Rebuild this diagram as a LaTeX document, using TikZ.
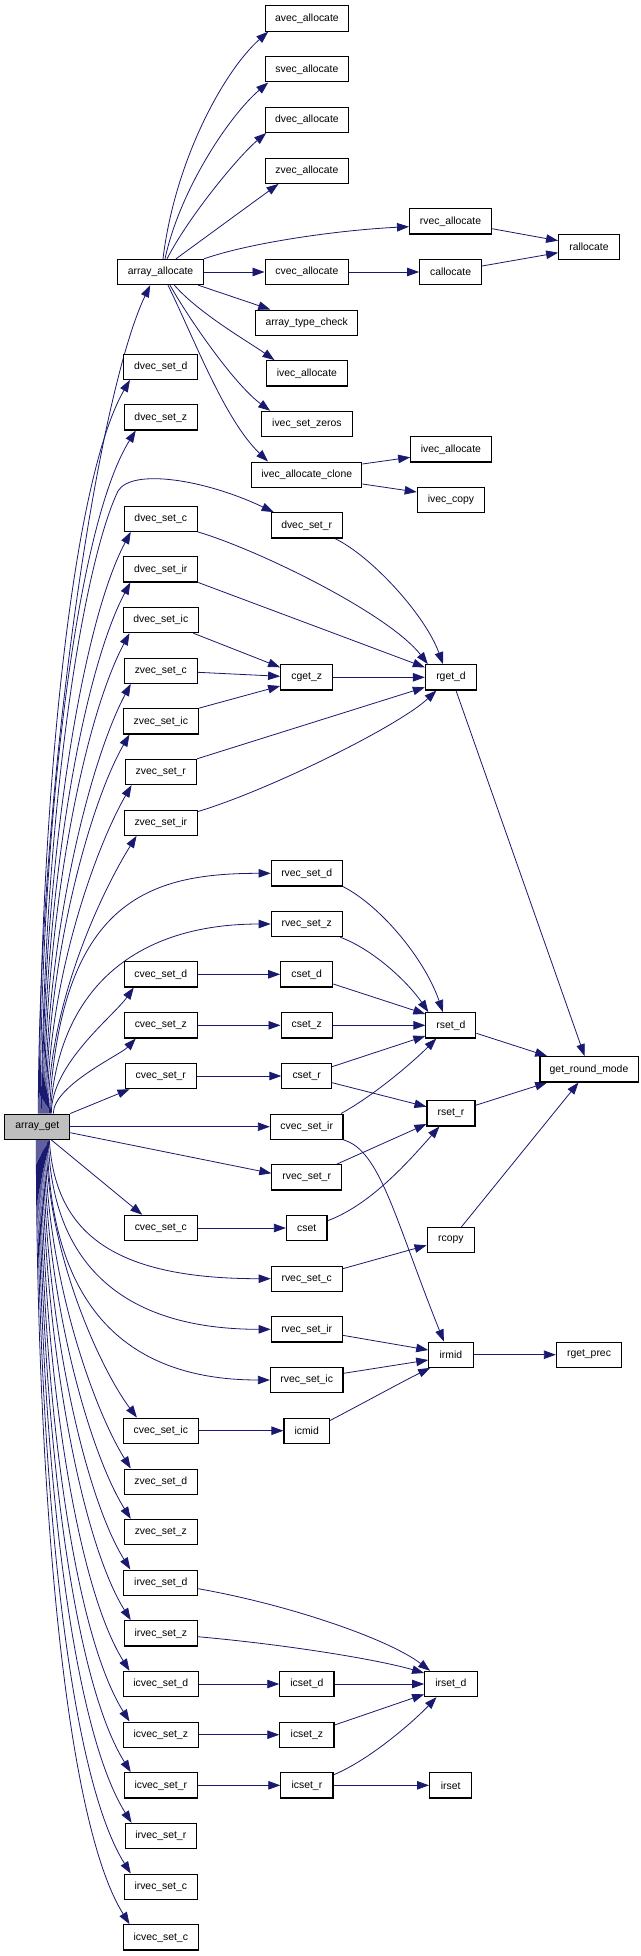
\documentclass[tikz,border=0pt]{standalone}
\usepackage{fontspec}
\setmainfont{Liberation Sans}
\usetikzlibrary{arrows.meta,calc}
\definecolor{navy}{HTML}{191970}
\definecolor{agfill}{HTML}{BFBFBF}
\pgfdeclarelayer{bglayer}
\pgfdeclarelayer{edgelayer}
\pgfsetlayers{bglayer,edgelayer,main}
\begin{document}
\begin{tikzpicture}[x=1pt,y=-1pt,
  box/.style={draw=black, line width=1.1pt, fill=white, minimum height=25.3pt, inner sep=0pt, font=\fontsize{10.4}{12}\selectfont},
  e/.style={draw=navy, line width=0.8pt, -{Triangle[length=12pt,width=8.5pt,fill=navy]}}]
\useasboundingbox (0,0) rectangle (640,1956);
\begin{pgfonlayer}{bglayer}
\fill[white] (0,0) rectangle (640,1956);
\end{pgfonlayer}
% nodes
\node[box, minimum width=83.7pt] (avec) at (306.9,18.5) {avec\_allocate};
\node[box, minimum width=83.7pt] (svec) at (306.9,69.3) {svec\_allocate};
\node[box, minimum width=83.7pt] (dvecal) at (306.9,119.8) {dvec\_allocate};
\node[box, minimum width=83.7pt] (zvecal) at (306.9,170.7) {zvec\_allocate};
\node[box, minimum width=82pt] (rvecal) at (450.5,221.3) {rvec\_allocate};
\node[box, minimum width=60.7pt] (rall) at (589,246.7) {rallocate};
\node[box, minimum width=85.8pt] (aa) at (160.6,272) {array\_allocate};
\node[box, minimum width=83.7pt] (cvecal) at (306.9,272) {cvec\_allocate};
\node[box, minimum width=61.9pt] (call) at (450.6,272) {callocate};
\node[box, minimum width=102.1pt] (atc) at (306.7,322.7) {array\_type\_check};
\node[box, minimum width=80.4pt] (ivecala) at (306.9,373.3) {ivec\_allocate};
\node[box, minimum width=73.8pt] (dsd) at (160.8,366.7) {dvec\_set\_d};
\node[box, minimum width=73pt] (dsz) at (160.8,417.3) {dvec\_set\_z};
\node[box, minimum width=90.3pt] (ivz) at (306.9,424) {ivec\_set\_zeros};
\node[box, minimum width=80.4pt] (ivecalb) at (450.9,449.3) {ivec\_allocate};
\node[box, minimum width=110.3pt] (ivac) at (306.7,474.7) {ivec\_allocate\_clone};
\node[box, minimum width=67.3pt] (ivcopy) at (450.9,500) {ivec\_copy};
\node[box, minimum width=73pt] (dsc) at (160.8,518.7) {dvec\_set\_c};
\node[box, minimum width=71pt] (dsr) at (306.7,525.3) {dvec\_set\_r};
\node[box, minimum width=73.8pt] (dsir) at (160.8,569.3) {dvec\_set\_ir};
\node[box, minimum width=75.5pt] (dsic) at (160.8,620) {dvec\_set\_ic};
\node[box, minimum width=73pt] (zsc) at (160.8,670.7) {zvec\_set\_c};
\node[box, minimum width=52.1pt] (cgetz) at (306.7,677.3) {cget\_z};
\node[box, minimum width=51.3pt] (rgetd) at (451,677.3) {rget\_d};
\node[box, minimum width=75.5pt] (zsic) at (160.8,721.3) {zvec\_set\_ic};
\node[box, minimum width=71.4pt] (zsr) at (160.8,772) {zvec\_set\_r};
\node[box, minimum width=73.4pt] (zsir) at (160.8,822.7) {zvec\_set\_ir};
\node[box, minimum width=71pt] (rsd) at (306.7,873.3) {rvec\_set\_d};
\node[box, minimum width=71pt] (rsz) at (306.7,924) {rvec\_set\_z};
\node[box, minimum width=73pt] (csd) at (160.8,974.3) {cvec\_set\_d};
\node[box, minimum width=52.1pt] (csetd) at (306.7,974.3) {cset\_d};
\node[box, minimum width=73pt] (csz) at (160.8,1025.3) {cvec\_set\_z};
\node[box, minimum width=51.3pt] (csetz) at (306.7,1025.3) {cset\_z};
\node[box, minimum width=50pt] (rsetd) at (450.9,1025.3) {rset\_d};
\node[box, minimum width=98.1pt] (grm) at (589,1069.3) {get\_round\_mode};
\node[box, minimum width=71.4pt] (csr) at (160.8,1076) {cvec\_set\_r};
\node[box, minimum width=49.6pt] (csetr) at (306.7,1076) {cset\_r};
\node[box, minimum width=48pt] (rsetr) at (451,1113.3) {rset\_r};
\node[box, minimum width=64.8pt, fill=agfill] (ag) at (37.3,1126.7) {array\_get};
\node[box, minimum width=72.6pt] (csir) at (306.7,1126.7) {cvec\_set\_ir};
\node[box, minimum width=69.7pt] (rsr) at (306.7,1177.3) {rvec\_set\_r};
\node[box, minimum width=73pt] (csc) at (160.8,1228) {cvec\_set\_c};
\node[box, minimum width=40.6pt] (cset) at (306.7,1228) {cset};
\node[box, minimum width=47.6pt] (rcopy) at (450.9,1240) {rcopy};
\node[box, minimum width=71pt] (rsc) at (306.7,1278.7) {rvec\_set\_c};
\node[box, minimum width=71pt] (rsir) at (306.7,1329.3) {rvec\_set\_ir};
\node[box, minimum width=44.3pt] (irmid) at (450.9,1354.7) {irmid};
\node[box, minimum width=65.2pt] (rgp) at (589,1354.7) {rget\_prec};
\node[box, minimum width=72.6pt] (rsic) at (306.7,1380) {rvec\_set\_ic};
\node[box, minimum width=75.5pt] (csic) at (160.8,1430.7) {cvec\_set\_ic};
\node[box, minimum width=45.5pt] (icmid) at (306.7,1430.7) {icmid};
\node[box, minimum width=73pt] (zsd) at (160.8,1481.7) {zvec\_set\_d};
\node[box, minimum width=73pt] (zsz) at (160.8,1532) {zvec\_set\_z};
\node[box, minimum width=73.8pt] (irsd) at (160.8,1582.7) {irvec\_set\_d};
\node[box, minimum width=73pt] (irsz) at (160.8,1633.3) {irvec\_set\_z};
\node[box, minimum width=75.5pt] (icsd) at (160.8,1684) {icvec\_set\_d};
\node[box, minimum width=54.2pt] (icsetd) at (306.9,1684) {icset\_d};
\node[box, minimum width=52.5pt] (irsetd) at (450.9,1684) {irset\_d};
\node[box, minimum width=75.5pt] (icsz) at (160.8,1734.7) {icvec\_set\_z};
\node[box, minimum width=54.2pt] (icsetz) at (306.9,1734.7) {icset\_z};
\node[box, minimum width=73pt] (icsr) at (160.8,1785.3) {icvec\_set\_r};
\node[box, minimum width=52.1pt] (icsetr) at (306.9,1785.3) {icset\_r};
\node[box, minimum width=42.3pt] (irset) at (450.7,1785.3) {irset};
\node[box, minimum width=71.4pt] (irsr) at (160.8,1836) {irvec\_set\_r};
\node[box, minimum width=73pt] (irsc) at (160.8,1886.7) {irvec\_set\_c};
\node[box, minimum width=75.5pt] (icsc) at (160.8,1937.3) {icvec\_set\_c};

\begin{pgfonlayer}{edgelayer}
% array_allocate edges
\draw[e] ($(aa.north)+(2.4,0)$) .. controls +(12,-99.3) and +(-43.7,38.7) .. ($(avec.south west)+(3.7,0)$);
\draw[e] ($(aa.north)+(4.4,0)$) .. controls +(15,-69.3) and +(-38.7,33) .. ($(svec.south west)+(3.7,0)$);
\draw[e] ($(aa.north)+(6.4,0)$) .. controls +(23,-44.3) and +(-26.7,22.3) .. ($(dvecal.south west)+(1.7,0)$);
\draw[e] ($(aa.north)+(15.4,0)$) -- ($(zvecal.south west)+(14,0)$);
\draw[e] (aa.north east) .. controls +(46.5,-16.3) and +(-69.4,3.3) .. ($(rvecal.west)+(0,5.4)$);
\draw[e] (aa.east) -- (cvecal.west);
\draw[e] ($(aa.south east)+(-5.8,0)$) -- ($(atc.north west)+(15.2,0)$);
\draw[e] ($(aa.south)+(13.8,0)$) .. controls +(24.6,28.3) and +(-25,-17.7) .. ($(ivecala.north west)+(8.3,0)$);
\draw[e] ($(aa.south)+(9.4,0)$) .. controls +(20,35.3) and +(-35.7,-26.3) .. ($(ivz.north west)+(9,0)$);
\draw[e] ($(aa.south)+(7.4,0)$) .. controls +(27,55.3) and +(-43.5,-42) .. ($(ivac.north west)+(17,0)$);
\draw[e] ($(ivac.east)+(0,-10.7)$) -- ($(ivecalb.west)+(0,8)$);
\draw[e] ($(ivac.east)+(0,9.3)$) -- ($(ivcopy.west)+(0,-8)$);
\draw[e] ($(rvecal.east)+(0,7.4)$) -- ($(rall.west)+(0,-6)$);
\draw[e] (cvecal.east) -- (call.west);
\draw[e] ($(call.east)+(0,-6)$) -- ($(rall.west)+(0,6)$);

% array_get edges, upward fan
\draw[e] ($(ag.north)+(1,0)$) .. controls +(0,-314) and +(-54.7,114.6) .. ($(aa.south west)+(33,0)$);
\foreach \nm/\dx/\cm/\cl/\ca/\ce in {dsd/2/294/120/60/6.6, dsz/3/274/115/58/12, dsc/5/233/110/62/7,
    dsir/6/213/105/62/7, dsic/7/192/100/62/7, zsc/8/172/90/62/7, zsic/9/152/80/60/7,
    zsr/10/132/72/60/7, zsir/11/112/62/58/13, csd/14/50/35/55/10, csz/16/28/22/47/12}
  \draw[e] ($(ag.north)+(\dx,0)$) .. controls +(0,-\cm) and +({-\cl*cos(\ca)},{\cl*sin(\ca)}) .. ($(\nm.south west)+(\ce,0)$);
% hump to dvec_set_r
\coordinate (hump) at (118,491);
\draw[e] ($(ag.north)+(4,0)$) .. controls +(3,-320) and +(-33,69) .. (hump)
   .. controls +(14,-23) and +(-69,-32.7) .. ($(dsr.north west)+(3,0)$);
\draw[e] ($(ag.north)+(12,0)$) .. controls +(10.7,-214) and +(-121,0) .. (rsd.west);
\draw[e] ($(ag.north)+(13,0)$) .. controls +(7.7,-129) and +(-131,0) .. (rsz.west);
\draw[e] (ag.north east) -- ($(csr.south west)+(5,0)$);
\draw[e] (ag.east) -- (csir.west);
\draw[e] ($(ag.east)+(0,6)$) -- ($(rsr.west)+(0,-4)$);
% downward fan
\draw[e] ($(ag.south)+(14,0)$) -- ($(csc.north west)+(18.5,0)$);
\draw[e] ($(ag.south)+(12,0)$) .. controls +(5.7,90.7) and +(-161,0) .. (rsc.west);
\draw[e] ($(ag.south)+(11,0)$) .. controls +(3.7,130.7) and +(-141,0) .. (rsir.west);
\draw[e] ($(ag.south)+(10,0)$) .. controls +(2.7,170.7) and +(-140,0) .. (rsic.west);
\foreach \nm/\dx/\cm/\cl/\ca/\ce in {csic/9/112/60/53/14.4, zsd/8/132/72/58/7, zsz/7/152/80/58/7,
    irsd/6/172/88/58/7, irsz/5/192/96/58/7, icsd/4/213/104/58/7, icsz/3/233/112/58/7,
    icsr/2/253/118/58/7, irsr/1/274/124/58/7, irsc/0/294/128/58/7, icsc/-1/314/130/58/7}
  \draw[e] ($(ag.south)+(\dx,0)$) .. controls +(0,\cm) and +({-\cl*cos(\ca)},{-\cl*sin(\ca)}) .. ($(\nm.north west)+(\ce,0)$);

% middle part
\draw[e] (dsc.south east) .. controls +(62.7,18.7) and +(-38.4,-49.7) .. ($(rgetd.north west)+(3,0)$);
\draw[e] ($(dsr.south east)+(-8,0)$) .. controls +(35.8,17) and +(-18,-49.7) .. ($(rgetd.north)+(-8,0)$);
\draw[e] (dsir.south east) -- ($(rgetd.west)+(0,-10)$);
\draw[e] ($(dsic.south east)+(-5.8,0)$) -- ($(cgetz.west)+(0,-10)$);
\draw[e] ($(zsc.east)+(0,1.6)$) -- ($(cgetz.west)+(0,-1)$);
\draw[e] (zsic.north east) -- ($(cgetz.west)+(0,8.7)$);
\draw[e] (cgetz.east) -- (rgetd.west);
\draw[e] (zsr.north east) -- ($(rgetd.west)+(0,10)$);
\draw[e] ($(zsir.north east)+(0,2)$) .. controls +(72.7,-22) and +(-37,35) .. ($(rgetd.south west)+(11.6,0)$);
\draw[e] ($(rgetd.south)+(5,0)$) -- ($(grm.north)+(-4.4,0)$);
\draw[e] (rsd.south east) .. controls +(37.8,19) and +(-17.9,-52.7) .. ($(rsetd.north)+(-8,0)$);
\draw[e] ($(rsz.south east)+(-2.5,0)$) .. controls +(35.3,13.3) and +(-18.8,-27.7) .. ($(rsetd.north west)+(3,0)$);
\draw[e] (csd.east) -- (csetd.west);
\draw[e] ($(csetd.east)+(0,9.7)$) -- ($(rsetd.west)+(0,-11.3)$);
\draw[e] (csz.east) -- (csetz.west);
\draw[e] (csetz.east) -- (rsetd.west);
\draw[e] ($(rsetd.east)+(0,8)$) -- ($(grm.north west)+(7.8,0)$);
\draw[e] (csr.east) -- (csetr.west);
\draw[e] ($(csetr.east)+(0,-9.3)$) -- ($(rsetd.west)+(0,10.7)$);
\draw[e] ($(csetr.east)+(0,6.7)$) -- ($(rsetr.west)+(0,-6.6)$);
\draw[e] ($(csir.north east)+(-2.5,0)$) .. controls +(34.5,-19) and +(-21.8,22) .. ($(rsetd.south west)+(11,0)$);
\draw[e] (csir.south east) .. controls +(37,10.7) and +(-48.9,-122) .. ($(irmid.north)+(-7,0)$);
\draw[e] ($(rsetr.east)+(0,-8)$) -- ($(grm.south west)+(7.8,0)$);
\draw[e] ($(rsr.north east)+(-5.2,0)$) -- ($(rsetr.west)+(0,10.7)$);
\draw[e] (csc.east) -- (cset.west);
\draw[e] ($(cset.east)+(0,-7.3)$) .. controls +(43,-15.7) and +(-30,34) .. ($(rsetr.south west)+(13,0)$);
\draw[e] ($(rcopy.north)+(10.6,0)$) -- ($(grm.south)+(-10.5,0)$);
\draw[e] ($(rsc.east)+(0,-10)$) -- ($(rcopy.west)+(0,5.3)$);
\draw[e] ($(rsir.east)+(0,6)$) -- ($(irmid.west)+(0,-4.7)$);
\draw[e] ($(rsic.east)+(0,-6.7)$) -- ($(irmid.west)+(0,5.3)$);
\draw[e] (csic.east) -- (icmid.west);
\draw[e] ($(icmid.north east)+(0,3)$) .. controls +(30.6,-16) and +(-25.8,12.7) .. ($(irmid.south west)+(2,0)$);
\draw[e] (irmid.east) -- (rgp.west);

% bottom part
\draw[e] ($(irsd.east)+(0,6)$) .. controls +(92.3,16.3) and +(-40.6,-31.3) .. ($(irsetd.north west)+(6,0)$);
\draw[e] ($(irsz.east)+(0,3.4)$) .. controls +(92.7,8.3) and +(-44.6,-13) .. ($(irsetd.west)+(0,-11)$);
\draw[e] (icsd.east) -- (icsetd.west);
\draw[e] (icsetd.east) -- (irsetd.west);
\draw[e] (icsz.east) -- (icsetz.west);
\draw[e] ($(icsetz.east)+(0,-9.7)$) -- ($(irsetd.west)+(0,10.3)$);
\draw[e] (icsr.east) -- (icsetr.west);
\draw[e] ($(icsetr.north east)+(0,2.7)$) .. controls +(37,-15.3) and +(-22,23.3) .. ($(irsetd.south west)+(12.4,0)$);
\draw[e] (icsetr.east) -- (irset.west);
\end{pgfonlayer}
\end{tikzpicture}
\end{document}
